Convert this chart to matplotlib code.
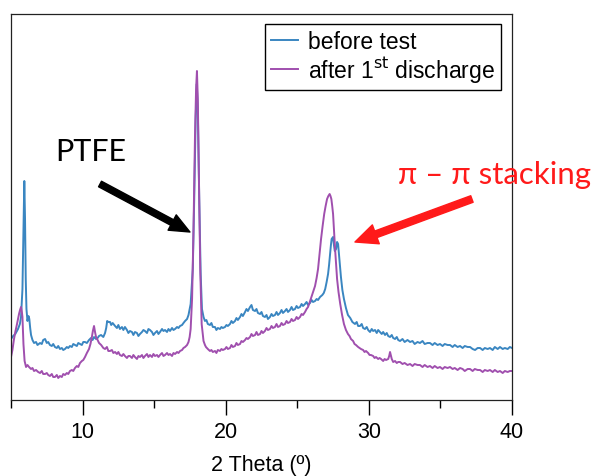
import matplotlib
matplotlib.use("Agg")
import matplotlib.pyplot as plt

# XRD patterns: (2 theta, intensity in arbitrary units)
before_pts = [
    (5.00, 61), (5.15, 64), (5.30, 66), (5.49, 71), (5.62, 76), (5.70, 83), (5.80, 111), (5.87, 171),
    (5.93, 219), (5.98, 181), (6.03, 121), (6.08, 91), (6.15, 79), (6.22, 84), (6.28, 81), (6.34, 72),
    (6.40, 65), (6.50, 60), (6.61, 57), (6.75, 58), (6.85, 55), (7.03, 57), (7.15, 56), (7.25, 60),
    (7.38, 61), (7.50, 57), (7.60, 58), (7.72, 55), (7.85, 54), (7.95, 56), (8.07, 53), (8.20, 52),
    (8.30, 54), (8.42, 51), (8.55, 52), (8.65, 50), (8.77, 51), (8.90, 53), (9.00, 52), (9.12, 54),
    (9.25, 53), (9.35, 56), (9.47, 55), (9.60, 54), (9.70, 57), (9.82, 56), (9.95, 55), (10.05, 58),
    (10.17, 58), (10.30, 57), (10.45, 60), (10.59, 62), (10.70, 60), (10.80, 63), (10.94, 61), (11.05, 62),
    (11.15, 64), (11.29, 65), (11.45, 63), (11.57, 67), (11.65, 72), (11.72, 79), (11.80, 78), (11.92, 78),
    (12.00, 75), (12.10, 77), (12.27, 74), (12.40, 72), (12.50, 75), (12.61, 71), (12.75, 73), (12.85, 70),
    (12.96, 73), (13.10, 70), (13.20, 67), (13.31, 69), (13.45, 68), (13.55, 65), (13.66, 68), (13.80, 67),
    (13.90, 64), (14.01, 66), (14.15, 68), (14.25, 70), (14.36, 69), (14.50, 67), (14.60, 71), (14.71, 70),
    (14.85, 68), (14.95, 65), (15.06, 67), (15.20, 69), (15.30, 66), (15.41, 68), (15.55, 71), (15.65, 69),
    (15.76, 70), (15.90, 68), (16.00, 71), (16.11, 69), (16.25, 72), (16.35, 70), (16.46, 71), (16.60, 73),
    (16.70, 72), (16.81, 74), (16.95, 75), (17.05, 77), (17.16, 79), (17.30, 81), (17.40, 85), (17.55, 96),
    (17.70, 131), (17.80, 201), (17.90, 281), (17.98, 316), (18.05, 291), (18.15, 201), (18.25, 126), (18.34, 91),
    (18.45, 83), (18.55, 79), (18.65, 80), (18.75, 76), (18.90, 75), (19.00, 77), (19.10, 73), (19.25, 73),
    (19.35, 70), (19.45, 72), (19.60, 71), (19.70, 73), (19.80, 72), (19.95, 73), (20.05, 75), (20.15, 74),
    (20.30, 76), (20.40, 79), (20.50, 77), (20.65, 79), (20.75, 82), (20.85, 80), (21.00, 83), (21.10, 86),
    (21.20, 84), (21.35, 88), (21.45, 91), (21.55, 89), (21.70, 93), (21.80, 95), (21.90, 90), (22.05, 89),
    (22.15, 91), (22.25, 87), (22.40, 86), (22.50, 88), (22.60, 84), (22.74, 83), (22.85, 85), (22.95, 81),
    (23.09, 83), (23.20, 86), (23.30, 84), (23.44, 85), (23.55, 88), (23.65, 85), (23.79, 87), (23.90, 90),
    (24.00, 87), (24.14, 89), (24.25, 91), (24.35, 88), (24.49, 90), (24.60, 93), (24.70, 90), (24.84, 91),
    (24.95, 94), (25.05, 92), (25.19, 93), (25.30, 96), (25.40, 94), (25.54, 96), (25.65, 98), (25.75, 95),
    (25.89, 97), (26.00, 100), (26.10, 98), (26.24, 99), (26.35, 101), (26.45, 100), (26.59, 103), (26.75, 105),
    (26.85, 107), (26.95, 111), (27.05, 118), (27.15, 126), (27.22, 135), (27.29, 146), (27.35, 155), (27.40, 161),
    (27.50, 163), (27.56, 155), (27.62, 149), (27.71, 151), (27.78, 158), (27.85, 156), (27.95, 139), (28.05, 123),
    (28.15, 110), (28.26, 101), (28.40, 92), (28.54, 85), (28.70, 82), (28.85, 78), (29.03, 76), (29.15, 78),
    (29.25, 74), (29.38, 74), (29.50, 76), (29.60, 72), (29.73, 71), (29.85, 73), (29.95, 70), (30.08, 68),
    (30.20, 71), (30.30, 69), (30.43, 70), (30.55, 67), (30.65, 70), (30.78, 68), (30.90, 66), (31.00, 68),
    (31.13, 65), (31.25, 67), (31.35, 64), (31.48, 63), (31.60, 65), (31.70, 62), (31.83, 61), (31.95, 63),
    (32.05, 60), (32.18, 59), (32.35, 61), (32.50, 58), (32.70, 60), (32.88, 58), (33.05, 59), (33.20, 56),
    (33.40, 58), (33.57, 57), (33.75, 59), (33.90, 56), (34.10, 57), (34.27, 57), (34.45, 55), (34.60, 57),
    (34.80, 55), (34.97, 56), (35.15, 54), (35.30, 56), (35.50, 55), (35.67, 55), (35.85, 53), (36.00, 55),
    (36.20, 53), (36.37, 54), (36.55, 52), (36.70, 54), (36.90, 53), (37.07, 53), (37.25, 51), (37.42, 50),
    (37.60, 52), (37.77, 52), (37.95, 50), (38.10, 52), (38.30, 51), (38.46, 52), (38.65, 50), (38.80, 53),
    (39.00, 51), (39.16, 53), (39.35, 51), (39.50, 52), (39.70, 51), (39.85, 53), (40.00, 52),
]

after_pts = [
    (5.00, 43), (5.10, 50), (5.21, 61), (5.30, 68), (5.42, 76), (5.50, 82), (5.56, 86), (5.63, 90),
    (5.70, 93), (5.76, 88), (5.80, 83), (5.87, 56), (5.95, 39), (6.05, 33), (6.15, 35), (6.26, 33),
    (6.40, 31), (6.50, 32), (6.61, 29), (6.75, 30), (6.90, 28), (7.03, 27), (7.15, 29), (7.25, 26),
    (7.38, 26), (7.50, 27), (7.60, 25), (7.72, 24), (7.85, 26), (7.95, 23), (8.07, 23), (8.20, 25),
    (8.30, 22), (8.42, 24), (8.55, 23), (8.65, 26), (8.77, 25), (8.90, 27), (9.00, 26), (9.12, 29),
    (9.25, 30), (9.35, 29), (9.47, 32), (9.60, 34), (9.70, 33), (9.82, 37), (9.95, 39), (10.05, 40),
    (10.17, 43), (10.30, 47), (10.45, 51), (10.55, 56), (10.65, 63), (10.72, 69), (10.80, 74), (10.87, 68),
    (10.94, 63), (11.05, 60), (11.15, 57), (11.30, 55), (11.45, 52), (11.57, 51), (11.70, 53), (11.80, 49),
    (11.92, 49), (12.05, 50), (12.15, 47), (12.27, 48), (12.40, 46), (12.50, 48), (12.61, 45), (12.75, 44),
    (12.85, 46), (12.96, 44), (13.10, 42), (13.20, 44), (13.31, 44), (13.45, 42), (13.55, 45), (13.66, 43),
    (13.80, 41), (13.90, 44), (14.01, 43), (14.15, 45), (14.25, 42), (14.36, 44), (14.50, 46), (14.60, 43),
    (14.71, 45), (14.85, 43), (14.95, 46), (15.06, 44), (15.20, 45), (15.30, 43), (15.41, 45), (15.55, 47),
    (15.65, 44), (15.76, 45), (15.90, 47), (16.00, 45), (16.11, 46), (16.25, 44), (16.35, 47), (16.46, 46),
    (16.60, 48), (16.70, 47), (16.81, 49), (16.95, 50), (17.05, 52), (17.16, 53), (17.30, 55), (17.40, 58),
    (17.48, 63), (17.55, 71), (17.65, 101), (17.75, 171), (17.85, 261), (17.93, 311), (17.99, 329), (18.05, 301),
    (18.13, 221), (18.22, 131), (18.32, 76), (18.45, 59), (18.55, 55), (18.62, 53), (18.75, 51), (18.90, 49),
    (19.00, 50), (19.10, 48), (19.25, 49), (19.35, 47), (19.45, 50), (19.60, 49), (19.70, 51), (19.80, 50),
    (19.95, 51), (20.05, 53), (20.15, 51), (20.30, 52), (20.40, 55), (20.50, 53), (20.65, 54), (20.75, 57),
    (20.85, 55), (21.00, 56), (21.10, 59), (21.20, 58), (21.35, 60), (21.45, 62), (21.55, 61), (21.70, 63),
    (21.80, 66), (21.90, 64), (22.05, 65), (22.15, 68), (22.25, 65), (22.40, 66), (22.50, 69), (22.60, 67),
    (22.74, 69), (22.85, 72), (22.95, 70), (23.09, 71), (23.20, 74), (23.30, 72), (23.44, 73), (23.55, 76),
    (23.65, 73), (23.79, 74), (23.90, 77), (24.00, 75), (24.14, 76), (24.25, 79), (24.35, 77), (24.49, 78),
    (24.60, 81), (24.70, 79), (24.84, 80), (24.95, 83), (25.05, 81), (25.19, 83), (25.30, 86), (25.40, 85),
    (25.54, 88), (25.65, 91), (25.75, 93), (25.85, 97), (25.94, 101), (26.05, 106), (26.15, 110), (26.24, 114),
    (26.35, 122), (26.45, 131), (26.55, 145), (26.66, 161), (26.77, 174), (26.88, 186), (26.98, 194), (27.08, 201),
    (27.17, 204), (27.26, 206), (27.32, 204), (27.38, 201), (27.44, 194), (27.50, 186), (27.57, 168), (27.64, 151),
    (27.71, 136), (27.78, 121), (27.88, 108), (28.00, 96), (28.13, 85), (28.26, 76), (28.40, 70), (28.54, 66),
    (28.65, 64), (28.75, 61), (28.90, 59), (29.00, 56), (29.10, 55), (29.25, 53), (29.35, 52), (29.45, 51),
    (29.60, 50), (29.70, 48), (29.80, 49), (29.95, 47), (30.05, 45), (30.15, 45), (30.30, 44), (30.40, 42),
    (30.50, 43), (30.65, 41), (30.75, 42), (30.85, 41), (31.00, 39), (31.10, 41), (31.20, 40), (31.35, 41),
    (31.42, 44), (31.48, 48), (31.55, 44), (31.60, 41), (31.70, 38), (31.83, 39), (31.95, 37), (32.05, 38),
    (32.18, 38), (32.35, 36), (32.50, 37), (32.70, 35), (32.88, 36), (33.05, 34), (33.20, 36), (33.40, 35),
    (33.57, 35), (33.75, 33), (33.90, 35), (34.10, 33), (34.27, 34), (34.45, 32), (34.60, 34), (34.80, 32),
    (34.97, 33), (35.15, 31), (35.30, 33), (35.50, 32), (35.67, 33), (35.85, 31), (36.00, 32), (36.20, 30),
    (36.37, 32), (36.55, 31), (36.70, 29), (36.90, 31), (37.07, 31), (37.25, 29), (37.40, 31), (37.60, 30),
    (37.77, 30), (37.95, 28), (38.10, 30), (38.30, 29), (38.46, 30), (38.65, 28), (38.80, 30), (39.00, 28),
    (39.16, 29), (39.35, 27), (39.50, 29), (39.70, 28), (39.85, 29), (40.00, 29),
]

labels = ["before test", "after 1$^{\\mathrm{st}}$ discharge"]
colors = ["#3a86c1", "#a04fae"]

plt.rcParams["font.family"] = ["Liberation Sans", "DejaVu Sans"]

fig = plt.figure(figsize=(5.96, 4.77), dpi=100)
ax = fig.add_axes([11 / 596, 1 - 401 / 477, 501 / 596, 386 / 477])

for pts, c, lab in zip([before_pts, after_pts], colors, labels):
    tt, yy = zip(*pts)
    ax.plot(tt, yy, color=c, lw=1.4, label=lab)

ax.set_xlim(5, 40)
ax.set_ylim(0, 386)
ax.set_yticks([])
ax.set_xticks([10, 20, 30, 40])
ax.set_xticks([5, 15, 25, 35], minor=True)
ax.tick_params(axis="x", which="major", length=10.5, width=1, labelsize=15.5, pad=4.5)
ax.tick_params(axis="x", which="minor", length=5.5, width=1)
for s in ax.spines.values():
    s.set_linewidth(0.9)
    s.set_color("#222222")
ax.set_xlabel("2 Theta (º)", fontsize=15.5, labelpad=9)

leg = ax.legend(loc="upper right", bbox_to_anchor=(0.978, 0.974), borderaxespad=0,
                fancybox=False, edgecolor="black", framealpha=1, fontsize=16.5,
                handlelength=1.2, handletextpad=0.45, borderpad=0.25, labelspacing=0.05)
leg.get_frame().set_linewidth(1)

# annotations
ann_font = ["Lato", "DejaVu Sans"]
ax.text(8.07, 249, "PTFE", fontsize=22, family=ann_font, va="center", ha="left", color="black")
ax.annotate("", xy=(17.5, 168), xytext=(11.22, 216),
            arrowprops=dict(arrowstyle="simple,head_length=1.45,head_width=1.25,tail_width=0.45",
                            color="black", shrinkA=0, shrinkB=0))
ax.text(32.04, 226, "π – π stacking", fontsize=22.5, family=ann_font, va="center", ha="left",
        color="#ff1a1a", clip_on=False)
ax.annotate("", xy=(29.03, 158), xytext=(37.2, 201),
            arrowprops=dict(arrowstyle="simple,head_length=1.6,head_width=1.45,tail_width=0.5",
                            color="#ff1a1a", shrinkA=0, shrinkB=0), annotation_clip=False)

fig.savefig("out.png", dpi=100)
